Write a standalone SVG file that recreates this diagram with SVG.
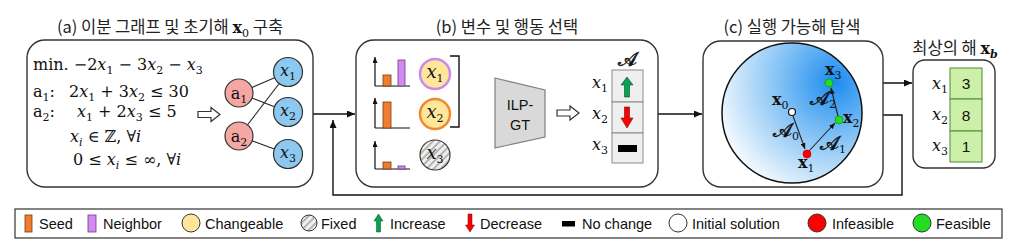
<svg xmlns="http://www.w3.org/2000/svg" width="1024" height="243" viewBox="0 0 1024 243">
<defs>
<style>
.panel{fill:#fff;stroke:#333;stroke-width:1.4}
.title{font-family:"Noto Sans CJK KR","Liberation Sans",sans-serif;font-size:16.5px;fill:#222}
.math{font-family:"DejaVu Serif","Liberation Serif",serif;font-size:16px;fill:#111}
.big{font-size:18px}
.it{font-style:italic}
.bf{font-weight:bold}
.sub{font-size:11px}
.scr{font-size:20px;font-style:normal;stroke:#111;stroke-width:0.6}
.ns{stroke:none}
.sans{font-family:"Liberation Sans","Noto Sans",sans-serif;fill:#111}
.leg{font-family:"Liberation Sans",sans-serif;font-size:14.5px;fill:#111}
.edge{stroke:#222;stroke-width:1.1;fill:none}
.conn{stroke:#111;stroke-width:1.4;fill:none}
.axis{stroke:#111;stroke-width:1.2;fill:none}
.seed{fill:#EE7D2F;stroke:#7a3a10;stroke-width:0.8}
.nbr{fill:#D28AF2;stroke:#6a3a7a;stroke-width:0.8}
.anode{fill:#F4A7A3;stroke:#333;stroke-width:1.2}
.xnode{fill:#8DC8F0;stroke:#333;stroke-width:1.2}
.cell{fill:#EFEFEF;stroke:#8a8a8a;stroke-width:1}
.gcell{fill:#CDF0A8;stroke:#4f8a35;stroke-width:1}
.hollow{fill:#fff;stroke:#333;stroke-width:1.2}
</style>
<marker id="ah" viewBox="0 0 8 7" markerWidth="8" markerHeight="7" refX="8" refY="3.5" orient="auto" markerUnits="userSpaceOnUse"><path d="M0,0 L8,3.5 L0,7 z" fill="#111"/></marker>
<marker id="ahs" viewBox="0 0 6 5" markerWidth="6" markerHeight="5" refX="6" refY="2.5" orient="auto" markerUnits="userSpaceOnUse"><path d="M0,0 L6,2.5 L0,5 z" fill="#111"/></marker>
<pattern id="hatch" width="5" height="5" patternUnits="userSpaceOnUse" patternTransform="rotate(45)"><rect width="5" height="5" fill="#f0f0f0"/><rect width="2" height="5" fill="#b5b5b5"/></pattern>
<radialGradient id="blueg" gradientUnits="userSpaceOnUse" cx="835" cy="82" r="128"><stop offset="0" stop-color="#1B8CF0"/><stop offset="0.45" stop-color="#86C3F5"/><stop offset="1" stop-color="#FFFFFF"/></radialGradient>
</defs>

<g id="connectors">
<path class="conn" d="M313,114 H355" marker-end="url(#ah)"/>
<path class="conn" d="M883,115 H902 V195 H333 V120" marker-end="url(#ah)"/>
<path class="conn" d="M658,114 H702" marker-end="url(#ah)"/>
<path class="conn" d="M459,92 H479 V114 H494" marker-end="url(#ah)"/>
<path class="conn" d="M829,83 H912" marker-end="url(#ah)"/>
</g>

<g id="panel-a">
<text class="title" x="170" y="33" text-anchor="middle">(a) 이분 그래프 및 초기해 <tspan class="math bf" font-size="17">x</tspan><tspan class="math sub" dy="4">0</tspan><tspan dy="-4"> 구축</tspan></text>
<rect class="panel" x="27" y="40" width="286" height="147" rx="18"/>
<text class="math" x="33" y="70">min. −2<tspan class="it">x</tspan><tspan class="sub" dy="4">1</tspan><tspan dy="-4"> − 3</tspan><tspan class="it">x</tspan><tspan class="sub" dy="4">2</tspan><tspan dy="-4"> − </tspan><tspan class="it">x</tspan><tspan class="sub" dy="4">3</tspan></text>
<text class="math" x="33" y="97">a<tspan class="sub" dy="4">1</tspan><tspan dy="-4">:</tspan></text>
<text class="math" x="69" y="97">2<tspan class="it">x</tspan><tspan class="sub" dy="4">1</tspan><tspan dy="-4"> + 3</tspan><tspan class="it">x</tspan><tspan class="sub" dy="4">2</tspan><tspan dy="-4"> ≤ 30</tspan></text>
<text class="math" x="33" y="117">a<tspan class="sub" dy="4">2</tspan><tspan dy="-4">:</tspan></text>
<text class="math" x="77" y="117"><tspan class="it">x</tspan><tspan class="sub" dy="4">1</tspan><tspan dy="-4"> + 2</tspan><tspan class="it">x</tspan><tspan class="sub" dy="4">3</tspan><tspan dy="-4"> ≤ 5</tspan></text>
<text class="math" x="70" y="142"><tspan class="it">x</tspan><tspan class="sub it" dy="4">i</tspan><tspan dy="-4"> ∈ ℤ, ∀</tspan><tspan class="it">i</tspan></text>
<text class="math" x="73" y="165">0 ≤ <tspan class="it">x</tspan><tspan class="sub it" dy="4">i</tspan><tspan dy="-4"> ≤ ∞, ∀</tspan><tspan class="it">i</tspan></text>
<polygon class="hollow" points="198,111.5 211,111.5 211,107.5 220,114.5 211,121.5 211,117.5 198,117.5"/>
<g id="edges-a">
<line class="edge" x1="239" y1="93" x2="288" y2="72"/>
<line class="edge" x1="239" y1="93" x2="288" y2="112"/>
<line class="edge" x1="239" y1="136" x2="288" y2="72"/>
<line class="edge" x1="239" y1="136" x2="288" y2="154"/>
</g>
<g id="node-a1"><circle class="anode" cx="239" cy="93" r="14"/><text class="math" x="239" y="99" text-anchor="middle">a<tspan class="sub" dy="4">1</tspan></text></g>
<g id="node-a2"><circle class="anode" cx="239" cy="136" r="14"/><text class="math" x="239" y="142" text-anchor="middle">a<tspan class="sub" dy="4">2</tspan></text></g>
<g id="node-x1"><circle class="xnode" cx="288" cy="72" r="14.5"/><text class="math it" x="288" y="76" text-anchor="middle">x<tspan class="sub" font-style="normal" dy="4">1</tspan></text></g>
<g id="node-x2"><circle class="xnode" cx="288" cy="112" r="14.5"/><text class="math it" x="288" y="116" text-anchor="middle">x<tspan class="sub" font-style="normal" dy="4">2</tspan></text></g>
<g id="node-x3"><circle class="xnode" cx="288" cy="154" r="14.5"/><text class="math it" x="288" y="158" text-anchor="middle">x<tspan class="sub" font-style="normal" dy="4">3</tspan></text></g>
</g>

<g id="panel-b">
<text class="title" x="507" y="33" text-anchor="middle">(b) 변수 및 행동 선택</text>
<rect class="panel" x="356" y="40" width="302" height="147" rx="18"/>
<g id="chart1">
<path class="axis" d="M375,86 V57" marker-end="url(#ahs)"/><path class="axis" d="M375,86 H410"/>
<rect class="seed" x="383" y="75" width="8" height="11"/><rect class="nbr" x="398" y="60" width="7" height="26"/>
</g>
<g id="chart2">
<path class="axis" d="M375,128 V98" marker-end="url(#ahs)"/><path class="axis" d="M375,128 H410"/>
<rect class="seed" x="383" y="102" width="8" height="26"/>
</g>
<g id="chart3">
<path class="axis" d="M375,169 V141" marker-end="url(#ahs)"/><path class="axis" d="M375,169 H410"/>
<rect class="seed" x="383" y="162" width="8" height="7"/><rect class="nbr" x="398" y="166" width="7" height="3"/>
</g>
<g id="var-x1"><circle cx="435" cy="74" r="15" fill="#FFE69A" stroke="#CC88EE" stroke-width="2.5"/><text class="math it big" x="435" y="78" text-anchor="middle">x<tspan class="sub" font-style="normal" dy="4">1</tspan></text></g>
<g id="var-x2"><circle cx="435" cy="114" r="15" fill="#FFE69A" stroke="#F08A30" stroke-width="2.5"/><text class="math it big" x="435" y="118" text-anchor="middle">x<tspan class="sub" font-style="normal" dy="4">2</tspan></text></g>
<g id="var-x3"><circle cx="435" cy="155" r="15" fill="url(#hatch)" stroke="#333" stroke-width="1.2"/><text class="math it big" x="435" y="159" text-anchor="middle">x<tspan class="sub" font-style="normal" dy="4">3</tspan></text></g>
<path class="conn" d="M450,56 H459 V127 H450"/>
<g id="ilp-gt">
<polygon points="495,78 545,90 545,137 495,148" fill="#D9D9D9" stroke="#7f7f7f" stroke-width="1.2"/>
<text class="sans" x="520" y="110" text-anchor="middle" font-size="14.5">ILP-</text>
<text class="sans" x="520" y="130" text-anchor="middle" font-size="14.5">GT</text>
</g>
<polygon class="hollow" points="557,110 570,110 570,106 579,113 570,120 570,116 557,116"/>
<g id="action-table">
<text class="math scr" x="627" y="66" text-anchor="middle">𝒜</text>
<rect class="cell" x="612" y="70" width="31" height="32"/>
<rect class="cell" x="612" y="102" width="31" height="31"/>
<rect class="cell" x="612" y="133" width="31" height="30"/>
<polygon points="627,77 633,85 629.5,85 629.5,97 624.5,97 624.5,85 621,85" fill="#00A550" stroke="#1f3f1f" stroke-width="0.6"/>
<polygon points="624.5,107 629.5,107 629.5,118 633,118 627,128 621,118 624.5,118" fill="#FF0000" stroke="#5a1010" stroke-width="0.6"/>
<rect x="618" y="145" width="19" height="7" fill="#000"/>
<text class="math it" x="608" y="88" text-anchor="end" font-size="19">x<tspan class="sub" font-style="normal" font-size="12" dy="4">1</tspan></text>
<text class="math it" x="608" y="119" text-anchor="end" font-size="19">x<tspan class="sub" font-style="normal" font-size="12" dy="4">2</tspan></text>
<text class="math it" x="608" y="150" text-anchor="end" font-size="19">x<tspan class="sub" font-style="normal" font-size="12" dy="4">3</tspan></text>
</g>
</g>

<g id="panel-c">
<text class="title" x="792" y="33" text-anchor="middle">(c) 실행 가능해 탐색</text>
<rect class="panel" x="703" y="41" width="180" height="146" rx="18"/>
<circle cx="792" cy="113" r="70" fill="url(#blueg)" stroke="#111" stroke-width="1.5"/>
<line class="edge" x1="793" y1="116" x2="805" y2="149" marker-end="url(#ahs)"/>
<line class="edge" x1="809" y1="151" x2="835" y2="123" marker-end="url(#ahs)"/>
<line class="edge" x1="838" y1="116" x2="831" y2="88" marker-end="url(#ahs)"/>
<g id="sol-x0"><circle cx="792" cy="112" r="3.5" fill="#fff" stroke="#111" stroke-width="1.2"/><text class="math bf" x="772" y="105">x<tspan class="sub" font-weight="normal" dy="4">0</tspan></text></g>
<g id="sol-x1"><circle cx="807" cy="154" r="4" fill="#FF0000" stroke="#a00" stroke-width="0.6"/><text class="math bf" x="798" y="168">x<tspan class="sub" font-weight="normal" dy="4">1</tspan></text></g>
<g id="sol-x2"><circle cx="839" cy="120" r="4" fill="#22DD22" stroke="#0a8a0a" stroke-width="0.6"/><text class="math bf" x="843" y="123">x<tspan class="sub" font-weight="normal" dy="4">2</tspan></text></g>
<g id="sol-x3"><circle cx="829" cy="83" r="4" fill="#22DD22" stroke="#0a8a0a" stroke-width="0.6"/><text class="math bf" x="825" y="75">x<tspan class="sub" font-weight="normal" dy="4">3</tspan></text></g>
<text class="math scr" x="773" y="137">𝒜<tspan class="sub ns" dy="3">0</tspan></text>
<text class="math scr" x="820" y="150">𝒜<tspan class="sub ns" dy="3">1</tspan></text>
<text class="math scr" x="810" y="105">𝒜<tspan class="sub ns" dy="3">2</tspan></text>
</g>

<g id="best-solution">
<text class="title" x="955" y="54" text-anchor="middle">최상의 해 <tspan class="math bf" font-size="17">x</tspan><tspan class="math bf it sub" dy="4">b</tspan></text>
<rect class="panel" x="913" y="60" width="82" height="108" rx="12"/>
<rect class="gcell" x="950" y="68" width="32" height="31"/>
<rect class="gcell" x="950" y="99" width="32" height="32"/>
<rect class="gcell" x="950" y="131" width="32" height="31"/>
<text class="sans" x="966" y="89" text-anchor="middle" font-size="15.5">3</text>
<text class="sans" x="966" y="121" text-anchor="middle" font-size="15.5">8</text>
<text class="sans" x="966" y="152" text-anchor="middle" font-size="15.5">1</text>
<text class="math it" x="948" y="89" text-anchor="end" font-size="19">x<tspan class="sub" font-style="normal" font-size="12" dy="4">1</tspan></text>
<text class="math it" x="948" y="120" text-anchor="end" font-size="19">x<tspan class="sub" font-style="normal" font-size="12" dy="4">2</tspan></text>
<text class="math it" x="948" y="151" text-anchor="end" font-size="19">x<tspan class="sub" font-style="normal" font-size="12" dy="4">3</tspan></text>
</g>

<g id="legend">
<rect x="15" y="209" width="987" height="29" fill="#fff" stroke="#333" stroke-width="1.2"/>
<rect class="seed" x="25" y="215" width="7" height="17"/><text class="leg" x="39" y="228.5">Seed</text>
<rect class="nbr" x="88" y="215" width="8" height="17"/><text class="leg" x="103" y="228.5">Neighbor</text>
<circle cx="191" cy="223" r="9" fill="#FFE69A" stroke="#333" stroke-width="1"/><text class="leg" x="205" y="228.5">Changeable</text>
<circle cx="309" cy="223" r="8" fill="url(#hatch)" stroke="#333" stroke-width="1"/><text class="leg" x="321" y="228.5">Fixed</text>
<polygon points="378.5,214 383,221 380.5,221 380.5,232 376.5,232 376.5,221 374,221" fill="#00A550" stroke="#1f3f1f" stroke-width="0.5"/><text class="leg" x="390" y="228.5">Increase</text>
<polygon points="468,214 472,214 472,225 474.5,225 470,232 465.5,225 468,225" fill="#FF0000" stroke="#5a1010" stroke-width="0.5"/><text class="leg" x="480" y="228.5">Decrease</text>
<rect x="562" y="221" width="13" height="5.5" fill="#000"/><text class="leg" x="582" y="228.5">No change</text>
<circle cx="678" cy="223" r="9" fill="#fff" stroke="#333" stroke-width="1"/><text class="leg" x="692" y="228.5">Initial solution</text>
<circle cx="817" cy="223" r="9" fill="#FF0000" stroke="#333" stroke-width="1"/><text class="leg" x="832" y="228.5">Infeasible</text>
<circle cx="922" cy="223" r="9" fill="#22DD22" stroke="#333" stroke-width="1"/><text class="leg" x="936" y="228.5">Feasible</text>
</g>
</svg>
